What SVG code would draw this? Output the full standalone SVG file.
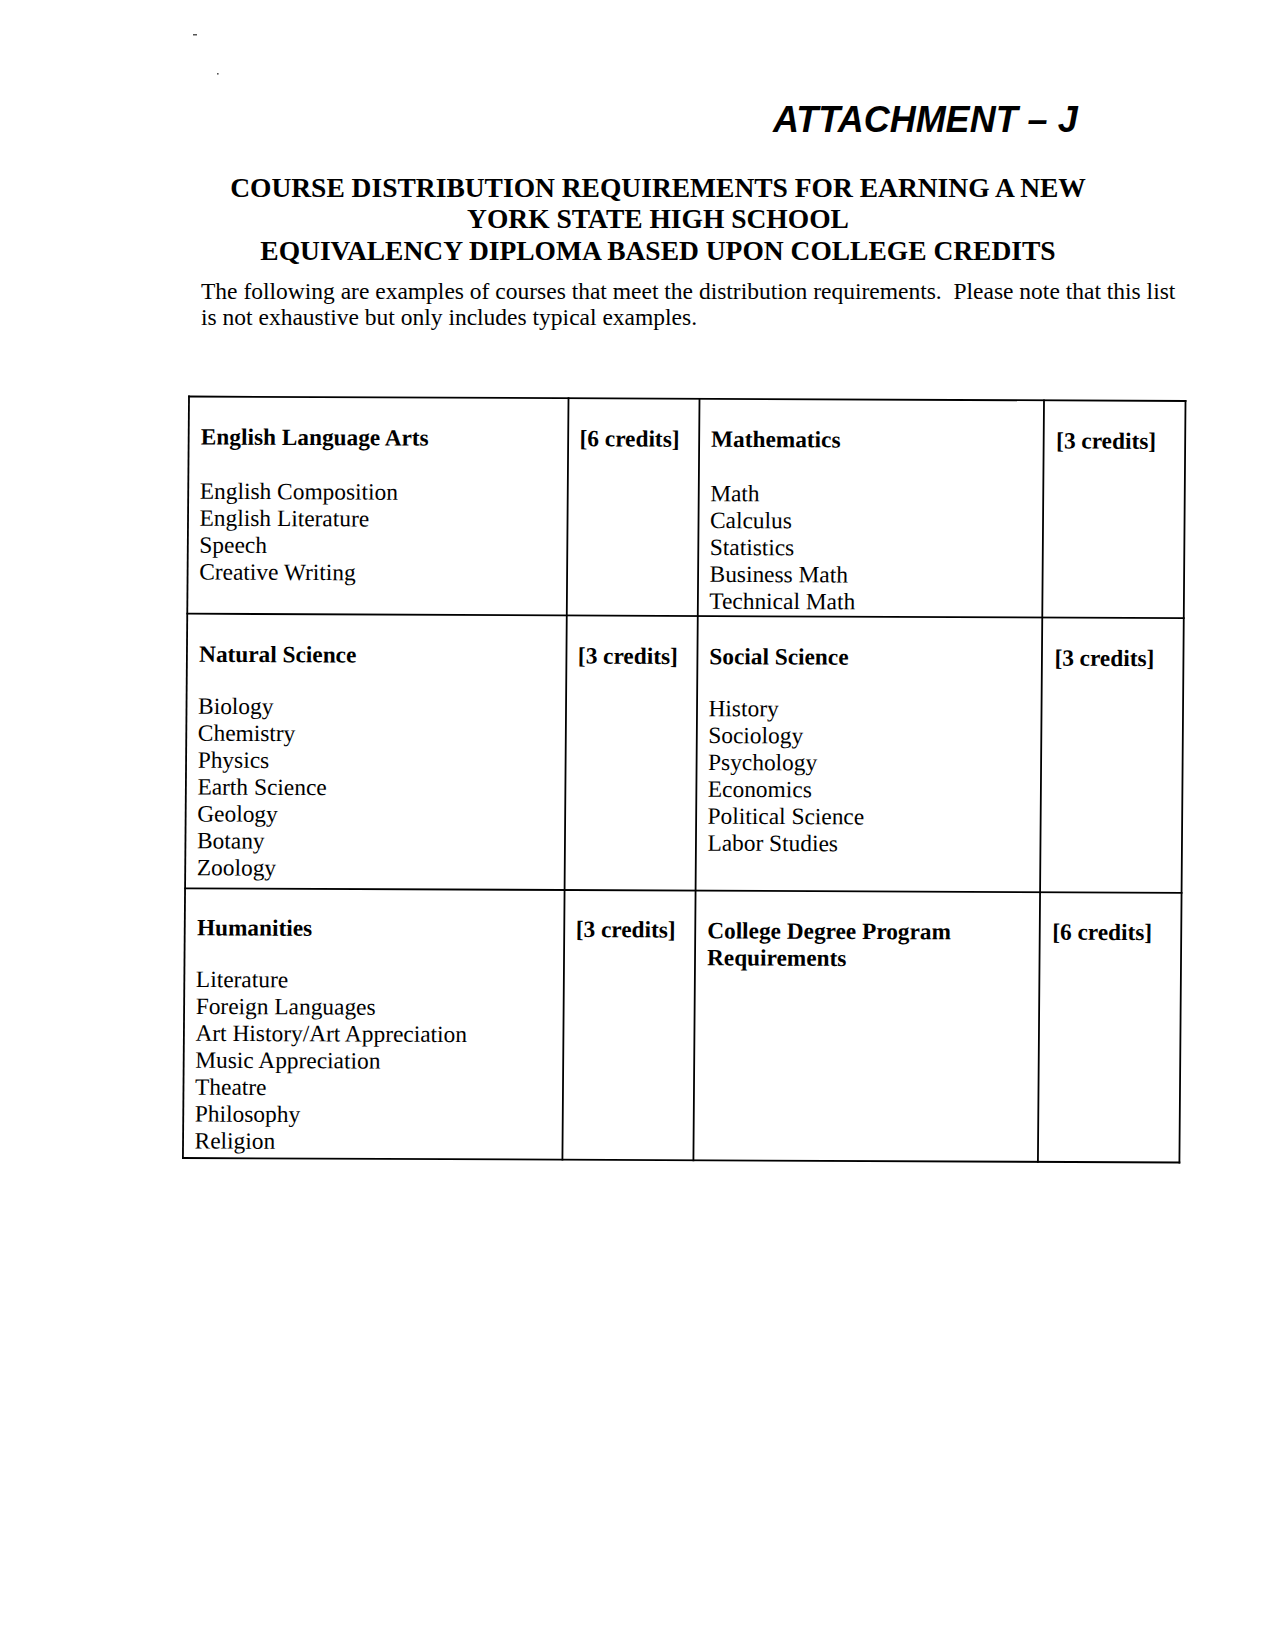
<svg xmlns="http://www.w3.org/2000/svg" width="1275" height="1650" viewBox="0 0 1275 1650">
<style>
.bg{fill:#fff}
.att{font-family:"Liberation Sans",Arial,sans-serif;font-weight:bold;font-style:italic;font-size:36px;fill:#000}
.title{font-family:"Liberation Serif","Times New Roman",serif;font-weight:bold;font-size:27.5px;fill:#000;text-anchor:middle}
.p{font-family:"Liberation Serif","Times New Roman",serif;font-size:23.5px;fill:#000}
.h{font-family:"Liberation Serif","Times New Roman",serif;font-weight:bold;font-size:23.3px;fill:#000}
.t{font-family:"Liberation Serif","Times New Roman",serif;font-size:23.4px;fill:#000}
.grid line{stroke:#000;stroke-width:1.8;stroke-linecap:square}
</style>
<rect class="bg" x="0" y="0" width="1275" height="1650"/>
<rect x="193" y="34" width="4" height="1.5" fill="#555"/>
<rect x="217" y="73" width="1.6" height="1.6" fill="#555"/>
<g id="header">
<text class="att" x="773" y="132">ATTACHMENT – J</text>
<text class="title" x="658" y="197">COURSE DISTRIBUTION REQUIREMENTS FOR EARNING A NEW</text>
<text class="title" x="658" y="228">YORK STATE HIGH SCHOOL</text>
<text class="title" x="658" y="260">EQUIVALENCY DIPLOMA BASED UPON COLLEGE CREDITS</text>
<text class="p" x="201" y="299" xml:space="preserve">The following are examples of courses that meet the distribution requirements.  Please note that this list</text>
<text class="p" x="201" y="325">is not exhaustive but only includes typical examples.</text>
</g>
<g id="table" transform="matrix(1,0.0045,-0.008,1,189,397)">
<g id="connectors" class="grid">
<line x1="0" y1="-0.5" x2="996.5" y2="-0.5"/>
<line x1="0" y1="216.7" x2="996.5" y2="216.7"/>
<line x1="0" y1="491.3" x2="996.5" y2="491.3"/>
<line x1="0" y1="761" x2="996.5" y2="761"/>
<line x1="0" y1="-0.5" x2="0" y2="761"/>
<line x1="379.5" y1="-0.5" x2="379.5" y2="761"/>
<line x1="510.5" y1="-0.5" x2="510.5" y2="761"/>
<line x1="855" y1="-0.5" x2="855" y2="761"/>
<line x1="996.5" y1="-0.5" x2="996.5" y2="761"/>
</g>
<g id="english">
<text class="h" x="12.2" y="47.5">English Language Arts</text>
<text class="t"><tspan x="11.6" y="101.8">English Composition</tspan><tspan x="11.6" y="128.7">English Literature</tspan><tspan x="11.6" y="155.6">Speech</tspan><tspan x="11.6" y="182.5">Creative Writing</tspan></text>
</g>
<g id="english-credits"><text class="h" x="391" y="47.5">[6 credits]</text></g>
<g id="math">
<text class="h" x="522.5" y="47.5">Mathematics</text>
<text class="t"><tspan x="522" y="101.8">Math</tspan><tspan x="522" y="128.7">Calculus</tspan><tspan x="522" y="155.6">Statistics</tspan><tspan x="522" y="182.5">Business Math</tspan><tspan x="522" y="209.4">Technical Math</tspan></text>
</g>
<g id="math-credits"><text class="h" x="867.5" y="47.5">[3 credits]</text></g>
<g id="natural">
<text class="h" x="12.2" y="264.8">Natural Science</text>
<text class="t"><tspan x="11.6" y="316.8">Biology</tspan><tspan x="11.6" y="343.7">Chemistry</tspan><tspan x="11.6" y="370.6">Physics</tspan><tspan x="11.6" y="397.5">Earth Science</tspan><tspan x="11.6" y="424.4">Geology</tspan><tspan x="11.6" y="451.3">Botany</tspan><tspan x="11.6" y="478.2">Zoology</tspan></text>
</g>
<g id="natural-credits"><text class="h" x="391" y="264.8">[3 credits]</text></g>
<g id="social">
<text class="h" x="522.5" y="264.8">Social Science</text>
<text class="t"><tspan x="522" y="316.8">History</tspan><tspan x="522" y="343.7">Sociology</tspan><tspan x="522" y="370.6">Psychology</tspan><tspan x="522" y="397.5">Economics</tspan><tspan x="522" y="424.4">Political Science</tspan><tspan x="522" y="451.3">Labor Studies</tspan></text>
</g>
<g id="social-credits"><text class="h" x="867.5" y="264.8">[3 credits]</text></g>
<g id="humanities">
<text class="h" x="12.2" y="538.3">Humanities</text>
<text class="t"><tspan x="11.6" y="590">Literature</tspan><tspan x="11.6" y="616.9">Foreign Languages</tspan><tspan x="11.6" y="643.8">Art History/Art Appreciation</tspan><tspan x="11.6" y="670.7">Music Appreciation</tspan><tspan x="11.6" y="697.6">Theatre</tspan><tspan x="11.6" y="724.5">Philosophy</tspan><tspan x="11.6" y="751.4">Religion</tspan></text>
</g>
<g id="humanities-credits"><text class="h" x="391" y="538.3">[3 credits]</text></g>
<g id="college">
<text class="h"><tspan x="522.5" y="539">College Degree Program</tspan><tspan x="522.5" y="566">Requirements</tspan></text>
</g>
<g id="college-credits"><text class="h" x="867.5" y="538.8">[6 credits]</text></g>
</g>
</svg>
